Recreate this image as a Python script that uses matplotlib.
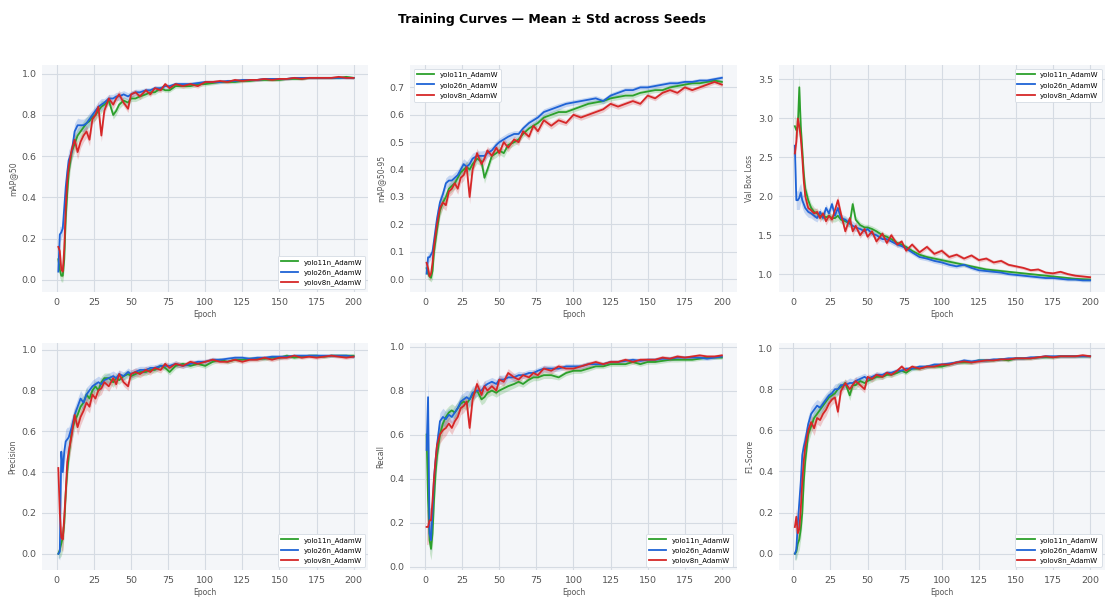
import numpy as np
import matplotlib
matplotlib.use("Agg")
import matplotlib.pyplot as plt

epochs = [1, 2, 3, 4, 5, 6, 7, 8,
          10, 12, 14, 16, 18, 20, 22, 24, 26, 28, 30,
          32, 35, 38, 40, 42, 45, 48, 50,
          53, 56, 60, 63, 66, 70, 73, 76, 80,
          85, 90, 95, 100, 105, 110, 115, 120, 125, 130, 135, 140,
          145, 150, 155, 160, 165, 170, 175, 180, 185, 190, 195, 200]

models = ["yolo11n_AdamW", "yolo26n_AdamW", "yolov8n_AdamW"]

# mAP@50
map50_v11 = [0.10, 0.05, 0.02, 0.02, 0.10, 0.30, 0.42, 0.52,
             0.62, 0.66, 0.70, 0.72, 0.74, 0.76, 0.77, 0.79, 0.80, 0.82, 0.84,
             0.85, 0.87, 0.80, 0.82, 0.85, 0.87, 0.86, 0.88,
             0.88, 0.89, 0.90, 0.91, 0.91, 0.93, 0.92, 0.92, 0.94,
             0.94, 0.94, 0.95, 0.95, 0.955, 0.96, 0.96, 0.96, 0.965, 0.965, 0.97, 0.97,
             0.97, 0.97, 0.975, 0.975, 0.975, 0.98, 0.98, 0.98, 0.98, 0.98, 0.985, 0.98]
map50_v26 = [0.04, 0.22, 0.23, 0.25, 0.35, 0.45, 0.52, 0.58,
             0.62, 0.72, 0.75, 0.75, 0.75, 0.76, 0.78, 0.80, 0.82, 0.84, 0.85,
             0.86, 0.88, 0.88, 0.89, 0.89, 0.90, 0.89, 0.90,
             0.91, 0.91, 0.92, 0.92, 0.93, 0.93, 0.94, 0.94, 0.95,
             0.95, 0.95, 0.955, 0.96, 0.96, 0.96, 0.965, 0.965, 0.97, 0.97, 0.97, 0.975,
             0.975, 0.975, 0.975, 0.98, 0.98, 0.98, 0.98, 0.98, 0.98, 0.98, 0.98, 0.98]
map50_v8 = [0.16, 0.14, 0.05, 0.04, 0.15, 0.35, 0.48, 0.55,
            0.63, 0.68, 0.62, 0.67, 0.70, 0.72, 0.68, 0.78, 0.80, 0.84, 0.70,
            0.82, 0.88, 0.85, 0.88, 0.90, 0.86, 0.83, 0.90,
            0.91, 0.89, 0.92, 0.90, 0.93, 0.92, 0.95, 0.93, 0.95,
            0.94, 0.95, 0.94, 0.96, 0.96, 0.965, 0.96, 0.97, 0.965, 0.97, 0.97, 0.975,
            0.97, 0.975, 0.975, 0.98, 0.975, 0.98, 0.98, 0.98, 0.98, 0.985, 0.98, 0.98]
map50_std = [0.04, 0.04, 0.03, 0.03, 0.05, 0.06, 0.06, 0.05,
             0.04, 0.04, 0.035, 0.03, 0.03, 0.03, 0.03, 0.025, 0.025, 0.025, 0.03,
             0.02, 0.02, 0.02, 0.02, 0.02, 0.018, 0.018, 0.015,
             0.015, 0.015, 0.012, 0.012, 0.012, 0.012, 0.01, 0.01, 0.01,
             0.01, 0.01, 0.01, 0.009, 0.009, 0.008, 0.008, 0.008, 0.008, 0.007, 0.007, 0.007,
             0.007, 0.007, 0.006, 0.006, 0.006, 0.006, 0.006, 0.006, 0.006, 0.006, 0.006, 0.006]

# mAP@50-95
map5095_v11 = [0.04, 0.02, 0.01, 0.005, 0.03, 0.10, 0.14, 0.18,
               0.25, 0.28, 0.30, 0.33, 0.34, 0.35, 0.37, 0.39, 0.40, 0.41, 0.40,
               0.42, 0.44, 0.43, 0.37, 0.40, 0.45, 0.46, 0.47,
               0.46, 0.49, 0.50, 0.51, 0.53, 0.55, 0.56, 0.57, 0.59,
               0.60, 0.61, 0.61, 0.62, 0.63, 0.64, 0.645, 0.65, 0.66, 0.665, 0.67, 0.67,
               0.68, 0.685, 0.69, 0.69, 0.70, 0.705, 0.71, 0.715, 0.715, 0.72, 0.725, 0.72]
map5095_v26 = [0.02, 0.08, 0.08, 0.09, 0.10, 0.14, 0.18, 0.22,
               0.28, 0.31, 0.35, 0.36, 0.36, 0.37, 0.38, 0.40, 0.42, 0.41, 0.42,
               0.44, 0.45, 0.45, 0.45, 0.46, 0.47, 0.49, 0.50,
               0.51, 0.52, 0.53, 0.53, 0.55, 0.57, 0.58, 0.59, 0.61,
               0.62, 0.63, 0.64, 0.645, 0.65, 0.655, 0.66, 0.65, 0.67, 0.68, 0.69, 0.69,
               0.70, 0.70, 0.705, 0.71, 0.715, 0.715, 0.72, 0.72, 0.725, 0.725, 0.73, 0.735]
map5095_v8 = [0.06, 0.04, 0.01, 0.02, 0.06, 0.12, 0.16, 0.20,
              0.26, 0.28, 0.27, 0.32, 0.33, 0.35, 0.33, 0.37, 0.38, 0.41, 0.30,
              0.40, 0.46, 0.42, 0.44, 0.47, 0.45, 0.48, 0.46,
              0.50, 0.48, 0.51, 0.50, 0.54, 0.52, 0.56, 0.54, 0.58,
              0.56, 0.58, 0.57, 0.60, 0.59, 0.60, 0.61, 0.62, 0.64, 0.63, 0.64, 0.65,
              0.64, 0.67, 0.66, 0.68, 0.69, 0.68, 0.70, 0.69, 0.70, 0.71, 0.72, 0.71]
map5095_std = [0.02, 0.02, 0.015, 0.015, 0.03, 0.03, 0.03, 0.03,
               0.025, 0.02, 0.02, 0.02, 0.02, 0.02, 0.02, 0.02, 0.02, 0.02, 0.025,
               0.02, 0.018, 0.018, 0.02, 0.015, 0.015, 0.015, 0.015,
               0.015, 0.015, 0.012, 0.012, 0.012, 0.012, 0.012, 0.012, 0.012,
               0.012, 0.012, 0.01, 0.01, 0.01, 0.01, 0.01, 0.01, 0.01, 0.01, 0.01, 0.01,
               0.009, 0.009, 0.009, 0.009, 0.009, 0.009, 0.008, 0.008, 0.008, 0.008, 0.008, 0.008]

# Val Box Loss
loss_v11 = [2.9, 2.85, 2.9, 3.4, 2.9, 2.6, 2.3, 2.1,
            1.95, 1.85, 1.80, 1.78, 1.75, 1.75, 1.73, 1.75, 1.72, 1.72, 1.75,
            1.70, 1.68, 1.65, 1.90, 1.70, 1.63, 1.60, 1.60,
            1.58, 1.55, 1.50, 1.48, 1.45, 1.40, 1.38, 1.35, 1.30,
            1.25, 1.22, 1.20, 1.18, 1.16, 1.14, 1.12, 1.10, 1.08, 1.06, 1.05, 1.04,
            1.03, 1.02, 1.01, 1.00, 0.99, 0.98, 0.97, 0.96, 0.95, 0.94, 0.935, 0.93]
loss_v26 = [2.65, 1.95, 1.95, 1.98, 2.05, 1.95, 1.90, 1.85,
            1.80, 1.78, 1.75, 1.72, 1.80, 1.72, 1.85, 1.78, 1.90, 1.75, 1.85,
            1.72, 1.70, 1.65, 1.62, 1.60, 1.58, 1.55, 1.58,
            1.52, 1.50, 1.45, 1.45, 1.42, 1.38, 1.36, 1.33, 1.28,
            1.22, 1.20, 1.17, 1.15, 1.12, 1.10, 1.12, 1.08, 1.05, 1.04, 1.03, 1.02,
            1.00, 0.99, 0.98, 0.97, 0.96, 0.95, 0.95, 0.94, 0.93, 0.93, 0.92, 0.92]
loss_v8 = [2.55, 2.7, 3.0, 2.9, 2.75, 2.5, 2.2, 2.0,
           1.85, 1.82, 1.78, 1.80, 1.72, 1.78, 1.68, 1.75, 1.70, 1.82, 1.95,
           1.78, 1.55, 1.72, 1.55, 1.62, 1.50, 1.58, 1.48,
           1.55, 1.42, 1.52, 1.40, 1.50, 1.38, 1.42, 1.30, 1.38,
           1.28, 1.35, 1.26, 1.30, 1.22, 1.25, 1.20, 1.24, 1.18, 1.20, 1.15, 1.17,
           1.12, 1.10, 1.08, 1.05, 1.06, 1.02, 1.01, 1.03, 1.00, 0.98, 0.97, 0.96]
loss_std = [0.15, 0.12, 0.12, 0.15, 0.12, 0.10, 0.10, 0.08,
            0.07, 0.06, 0.06, 0.05, 0.05, 0.05, 0.05, 0.05, 0.05, 0.05, 0.06,
            0.05, 0.05, 0.05, 0.06, 0.05, 0.04, 0.04, 0.04,
            0.04, 0.04, 0.04, 0.035, 0.035, 0.035, 0.03, 0.03, 0.03,
            0.03, 0.03, 0.03, 0.03, 0.03, 0.025, 0.025, 0.025, 0.025, 0.025, 0.025, 0.025,
            0.02, 0.02, 0.02, 0.02, 0.02, 0.02, 0.02, 0.02, 0.02, 0.02, 0.02, 0.02]

# Precision
prec_v11 = [0.0, 0.02, 0.05, 0.08, 0.15, 0.30, 0.40, 0.48,
            0.60, 0.65, 0.68, 0.72, 0.74, 0.78, 0.76, 0.80, 0.82, 0.80, 0.84,
            0.86, 0.86, 0.84, 0.86, 0.85, 0.87, 0.88, 0.87,
            0.88, 0.89, 0.89, 0.90, 0.90, 0.92, 0.91, 0.89, 0.92,
            0.93, 0.92, 0.93, 0.92, 0.94, 0.95, 0.94, 0.95, 0.95, 0.955, 0.955, 0.955,
            0.96, 0.96, 0.97, 0.96, 0.965, 0.97, 0.97, 0.965, 0.97, 0.97, 0.97, 0.97]
prec_v26 = [0.0, 0.01, 0.50, 0.40, 0.50, 0.55, 0.56, 0.57,
            0.62, 0.68, 0.72, 0.76, 0.74, 0.78, 0.80, 0.82, 0.83, 0.84, 0.83,
            0.85, 0.86, 0.87, 0.86, 0.88, 0.87, 0.89, 0.88,
            0.89, 0.90, 0.90, 0.91, 0.91, 0.92, 0.92, 0.92, 0.93,
            0.92, 0.93, 0.94, 0.94, 0.95, 0.95, 0.955, 0.96, 0.96, 0.955, 0.96, 0.96,
            0.965, 0.965, 0.965, 0.97, 0.97, 0.97, 0.97, 0.97, 0.97, 0.97, 0.97, 0.965]
prec_v8 = [0.42, 0.20, 0.08, 0.07, 0.18, 0.30, 0.45, 0.50,
           0.58, 0.68, 0.62, 0.67, 0.70, 0.74, 0.72, 0.78, 0.76, 0.80, 0.81,
           0.84, 0.82, 0.86, 0.83, 0.88, 0.84, 0.82, 0.88,
           0.89, 0.88, 0.90, 0.89, 0.91, 0.90, 0.93, 0.91, 0.93,
           0.92, 0.94, 0.93, 0.94, 0.95, 0.94, 0.94, 0.95, 0.94, 0.95, 0.95, 0.96,
           0.95, 0.96, 0.96, 0.97, 0.96, 0.965, 0.96, 0.965, 0.97, 0.965, 0.96, 0.965]
prec_std = [0.02, 0.04, 0.06, 0.06, 0.06, 0.06, 0.06, 0.05,
            0.05, 0.04, 0.04, 0.04, 0.035, 0.035, 0.03, 0.03, 0.03, 0.03, 0.03,
            0.025, 0.025, 0.025, 0.025, 0.02, 0.02, 0.02, 0.02,
            0.02, 0.018, 0.018, 0.015, 0.015, 0.015, 0.015, 0.015, 0.015,
            0.012, 0.012, 0.012, 0.012, 0.012, 0.01, 0.01, 0.01, 0.01, 0.01, 0.01, 0.01,
            0.01, 0.01, 0.01, 0.008, 0.008, 0.008, 0.008, 0.008, 0.008, 0.008, 0.008, 0.008]

# Recall
rec_v11 = [0.60, 0.30, 0.12, 0.08, 0.15, 0.30, 0.42, 0.50,
           0.60, 0.65, 0.68, 0.70, 0.71, 0.70, 0.72, 0.74, 0.75, 0.74, 0.76,
           0.78, 0.80, 0.76, 0.77, 0.79, 0.80, 0.79, 0.80,
           0.81, 0.82, 0.83, 0.84, 0.83, 0.85, 0.86, 0.86, 0.87,
           0.87, 0.86, 0.88, 0.89, 0.89, 0.90, 0.91, 0.91, 0.92, 0.92, 0.92, 0.93,
           0.92, 0.93, 0.93, 0.935, 0.94, 0.94, 0.94, 0.94, 0.945, 0.95, 0.95, 0.95]
rec_v26 = [0.53, 0.77, 0.15, 0.12, 0.25, 0.40, 0.48, 0.55,
           0.66, 0.68, 0.67, 0.69, 0.68, 0.70, 0.72, 0.75, 0.76, 0.77, 0.76,
           0.79, 0.80, 0.80, 0.82, 0.83, 0.84, 0.83, 0.85,
           0.85, 0.86, 0.86, 0.87, 0.87, 0.88, 0.88, 0.89, 0.90,
           0.90, 0.90, 0.91, 0.91, 0.91, 0.92, 0.92, 0.92, 0.93, 0.93, 0.935, 0.94,
           0.935, 0.94, 0.94, 0.945, 0.945, 0.95, 0.95, 0.95, 0.95, 0.945, 0.95, 0.955]
rec_v8 = [0.18, 0.18, 0.21, 0.21, 0.30, 0.40, 0.48, 0.55,
          0.60, 0.62, 0.63, 0.65, 0.63, 0.66, 0.68, 0.72, 0.73, 0.75, 0.63,
          0.76, 0.83, 0.78, 0.82, 0.80, 0.82, 0.80, 0.85,
          0.84, 0.88, 0.86, 0.85, 0.87, 0.86, 0.88, 0.87, 0.90,
          0.89, 0.91, 0.90, 0.90, 0.91, 0.92, 0.93, 0.92, 0.93, 0.93, 0.94, 0.93,
          0.94, 0.94, 0.94, 0.95, 0.945, 0.955, 0.95, 0.955, 0.96, 0.955, 0.955, 0.96]
rec_std = [0.08, 0.08, 0.06, 0.05, 0.06, 0.06, 0.05, 0.05,
           0.04, 0.04, 0.035, 0.03, 0.03, 0.03, 0.03, 0.03, 0.03, 0.03, 0.035,
           0.03, 0.025, 0.025, 0.025, 0.02, 0.02, 0.02, 0.02,
           0.02, 0.02, 0.018, 0.018, 0.015, 0.015, 0.015, 0.015, 0.015,
           0.015, 0.012, 0.012, 0.012, 0.012, 0.012, 0.01, 0.01, 0.01, 0.01, 0.01, 0.01,
           0.01, 0.01, 0.01, 0.01, 0.01, 0.01, 0.008, 0.008, 0.008, 0.008, 0.008, 0.008]

# F1-Score
f1_v11 = [0.0, 0.01, 0.05, 0.07, 0.12, 0.20, 0.35, 0.45,
          0.58, 0.62, 0.66, 0.68, 0.70, 0.72, 0.74, 0.76, 0.77, 0.78, 0.80,
          0.81, 0.83, 0.77, 0.82, 0.82, 0.84, 0.83, 0.84,
          0.85, 0.86, 0.86, 0.87, 0.87, 0.88, 0.89, 0.88, 0.90,
          0.90, 0.91, 0.91, 0.91, 0.92, 0.93, 0.93, 0.93, 0.94, 0.94, 0.94, 0.945,
          0.94, 0.95, 0.95, 0.95, 0.955, 0.955, 0.955, 0.96, 0.96, 0.96, 0.96, 0.96]
f1_v26 = [0.0, 0.02, 0.15, 0.25, 0.35, 0.48, 0.52, 0.55,
          0.63, 0.68, 0.70, 0.72, 0.71, 0.73, 0.75, 0.77, 0.78, 0.80, 0.80,
          0.82, 0.82, 0.83, 0.83, 0.84, 0.85, 0.86, 0.85,
          0.86, 0.87, 0.87, 0.88, 0.88, 0.89, 0.89, 0.90, 0.90,
          0.91, 0.91, 0.92, 0.92, 0.925, 0.93, 0.94, 0.935, 0.94, 0.94, 0.945, 0.945,
          0.95, 0.95, 0.95, 0.955, 0.955, 0.96, 0.96, 0.96, 0.96, 0.96, 0.96, 0.96]
f1_v8 = [0.13, 0.18, 0.10, 0.12, 0.22, 0.35, 0.45, 0.52,
         0.60, 0.64, 0.61, 0.66, 0.65, 0.68, 0.70, 0.73, 0.75, 0.76, 0.69,
         0.79, 0.83, 0.80, 0.82, 0.84, 0.82, 0.80, 0.86,
         0.85, 0.87, 0.86, 0.88, 0.87, 0.89, 0.91, 0.89, 0.91,
         0.90, 0.91, 0.91, 0.92, 0.92, 0.93, 0.935, 0.93, 0.935, 0.94, 0.94, 0.945,
         0.945, 0.95, 0.95, 0.95, 0.955, 0.96, 0.955, 0.96, 0.96, 0.96, 0.965, 0.96]
f1_std = [0.03, 0.04, 0.05, 0.05, 0.05, 0.05, 0.05, 0.04,
          0.04, 0.035, 0.035, 0.03, 0.03, 0.03, 0.03, 0.025, 0.025, 0.025, 0.03,
          0.02, 0.02, 0.025, 0.02, 0.02, 0.018, 0.018, 0.015,
          0.015, 0.015, 0.012, 0.012, 0.012, 0.012, 0.012, 0.01, 0.01,
          0.01, 0.01, 0.01, 0.01, 0.01, 0.01, 0.01, 0.01, 0.01, 0.01, 0.008, 0.008,
          0.008, 0.008, 0.008, 0.008, 0.008, 0.008, 0.008, 0.008, 0.008, 0.008, 0.008, 0.008]

colors = ["#2ca02c", "#1f63d6", "#d62728"]

panels = [
    ("mAP@50", [map50_v11, map50_v26, map50_v8], map50_std, "lower right"),
    ("mAP@50-95", [map5095_v11, map5095_v26, map5095_v8], map5095_std, "upper left"),
    ("Val Box Loss", [loss_v11, loss_v26, loss_v8], loss_std, "upper right"),
    ("Precision", [prec_v11, prec_v26, prec_v8], prec_std, "lower right"),
    ("Recall", [rec_v11, rec_v26, rec_v8], rec_std, "lower right"),
    ("F1-Score", [f1_v11, f1_v26, f1_v8], f1_std, "lower right"),
]

fig, axes = plt.subplots(2, 3, figsize=(11.05, 5.99), dpi=100)
fig.subplots_adjust(left=0.038, right=1.0, top=0.891, bottom=0.048,
                    wspace=0.128, hspace=0.225)

x = np.array(epochs)
for ax, (ylabel, series, std, loc) in zip(axes.flat, panels):
    ax.set_facecolor("#f4f6f9")
    sd = np.array(std)
    for name, vals, c in zip(models, series, colors):
        y = np.array(vals)
        ax.fill_between(x, y - sd, y + sd, color=c, alpha=0.22, lw=0)
        ax.plot(x, y, color=c, lw=1.3, label=name)
    ax.grid(True, color="#d5dbe3", lw=0.8)
    ax.set_axisbelow(True)
    for s in ax.spines.values():
        s.set_visible(False)
    ax.tick_params(length=0, labelsize=6.8, labelcolor="#555555", pad=4)
    ax.set_xticks([0, 25, 50, 75, 100, 125, 150, 175, 200])
    ax.set_xlim(-10, 210)
    ax.set_xlabel("Epoch", fontsize=5.5, color="#555555", labelpad=2)
    ax.set_ylabel(ylabel, fontsize=5.5, color="#555555", labelpad=3)
    leg = ax.legend(loc=loc, fontsize=5, frameon=True, framealpha=1.0,
                    edgecolor="#d5dbe3", handlelength=2.5)
    leg.get_frame().set_linewidth(0.6)

fig.suptitle("Training Curves — Mean ± Std across Seeds", fontsize=9,
             fontweight="bold", y=0.978)

fig.savefig("out.png", dpi=100, facecolor="white")
